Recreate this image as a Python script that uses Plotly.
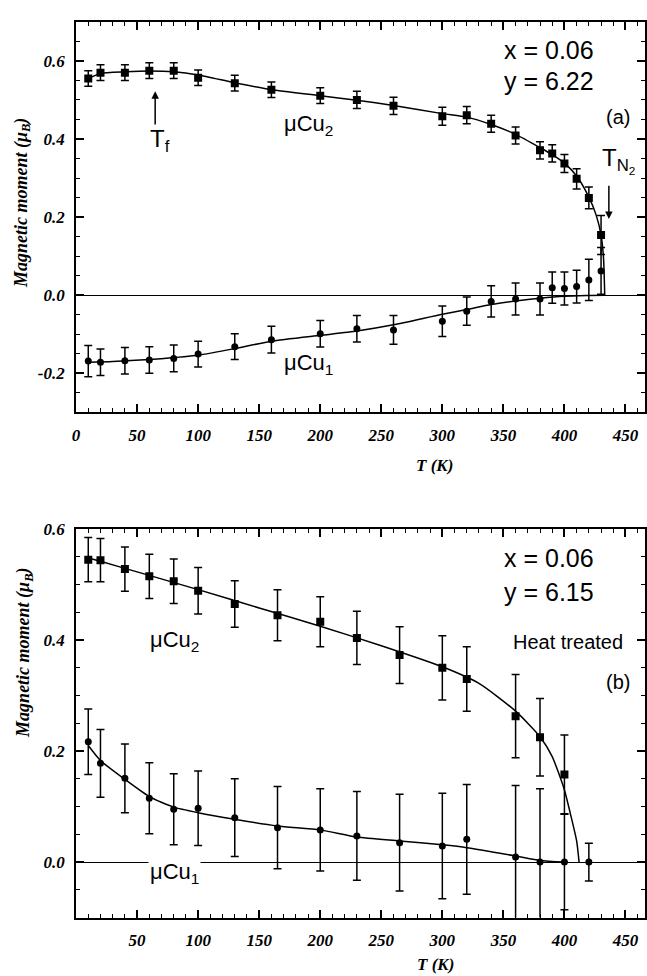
import plotly.graph_objects as go

# ---------------- data: panel (a) x=0.06, y=6.22 ----------------
T_a = [10, 20, 40, 60, 80, 100, 130, 160, 200, 230, 260, 300, 320, 340, 360, 380, 390, 400, 410, 420, 430]
cu2_a = [0.555, 0.570, 0.570, 0.575, 0.575, 0.557, 0.543, 0.526, 0.511, 0.500, 0.485, 0.458, 0.461, 0.439,
         0.409, 0.371, 0.363, 0.337, 0.298, 0.249, 0.154]
cu2_a_err = [0.02, 0.02, 0.02, 0.02, 0.02, 0.02, 0.02, 0.02, 0.02, 0.022, 0.022, 0.023, 0.022, 0.022,
             0.022, 0.022, 0.022, 0.023, 0.026, 0.028, 0.05]
cu1_a = [-0.169, -0.172, -0.168, -0.166, -0.162, -0.151, -0.132, -0.114, -0.099, -0.086, -0.089, -0.067,
         -0.041, -0.016, -0.010, -0.010, 0.019, 0.017, 0.022, 0.039, 0.062]
cu1_a_err = [0.04, 0.034, 0.034, 0.034, 0.034, 0.033, 0.033, 0.034, 0.034, 0.034, 0.037, 0.039,
             0.036, 0.04, 0.041, 0.041, 0.04, 0.042, 0.042, 0.053, 0.06]
fitT_cu2_a = [10, 20, 40, 60, 80, 100, 130, 160, 200, 230, 260, 300, 320, 340, 360, 380, 390, 400, 410, 420, 426, 430, 432, 433]
fit_cu2_a = [0.555, 0.568, 0.572, 0.574, 0.572, 0.564, 0.544, 0.526, 0.511, 0.499, 0.486, 0.465, 0.456, 0.437,
             0.412, 0.378, 0.360, 0.338, 0.305, 0.251, 0.205, 0.154, 0.096, 0.0]
fitT_cu1_a = [10, 30, 60, 80, 100, 130, 160, 200, 230, 260, 300, 320, 340, 360, 380, 400, 420, 433]
fit_cu1_a = [-0.172, -0.170, -0.165, -0.160, -0.154, -0.137, -0.118, -0.103, -0.092, -0.076, -0.049, -0.037,
             -0.024, -0.015, -0.008, -0.003, -0.001, 0.0]

# ---------------- data: panel (b) x=0.06, y=6.15, heat treated ----------------
T_b2 = [10, 20, 40, 60, 80, 100, 130, 165, 200, 230, 265, 300, 320, 360, 380, 400]
cu2_b = [0.545, 0.544, 0.528, 0.515, 0.506, 0.489, 0.465, 0.445, 0.433, 0.404, 0.373, 0.350, 0.330,
         0.263, 0.225, 0.158]
cu2_b_err = [0.04, 0.039, 0.04, 0.04, 0.04, 0.042, 0.042, 0.046, 0.045, 0.048, 0.051, 0.058, 0.058,
             0.075, 0.07, 0.071]
T_b1 = [10, 20, 40, 60, 80, 100, 130, 165, 200, 230, 265, 300, 320, 360, 380, 400, 420]
cu1_b = [0.217, 0.178, 0.151, 0.115, 0.095, 0.097, 0.080, 0.062, 0.058, 0.047, 0.035, 0.029, 0.041,
         0.009, 0.0, 0.0, 0.0]
cu1_b_err = [0.059, 0.061, 0.062, 0.064, 0.064, 0.067, 0.07, 0.074, 0.074, 0.08, 0.087, 0.095, 0.099,
             0.129, 0.132, 0.086, 0.034]
fitT_cu2_b = [10, 20, 50, 100, 150, 200, 250, 300, 330, 360, 380, 390, 400, 405, 410, 412]
fit_cu2_b = [0.548, 0.542, 0.523, 0.491, 0.458, 0.425, 0.390, 0.352, 0.322, 0.272, 0.226, 0.190, 0.130,
             0.086, 0.038, 0.0]
fitT_cu1_b = [10, 20, 40, 60, 80, 100, 130, 165, 200, 230, 265, 300, 320, 360, 380, 400]
fit_cu1_b = [0.210, 0.183, 0.149, 0.118, 0.099, 0.089, 0.077, 0.065, 0.058, 0.045, 0.038, 0.031, 0.026,
             0.011, 0.003, 0.0]

# tick labels
xticks_a = [0, 50, 100, 150, 200, 250, 300, 350, 400, 450]
xticks_b = [50, 100, 150, 200, 250, 300, 350, 400, 450]
yticks_a = [-0.2, 0.0, 0.2, 0.4, 0.6]
yticks_a_text = ["-0.2", "0.0", "0.2", "0.4", "0.6"]
yticks_b = [0.0, 0.2, 0.4, 0.6]
yticks_b_text = ["0.0", "0.2", "0.4", "0.6"]

W, H = 647, 976
fig = go.Figure()

def add_panel(xa, ya, T2, y2, e2, T1, y1, e1, fT2, f2, fT1, f1):
    fig.add_trace(go.Scatter(x=fT2, y=f2, mode="lines", line=dict(color="black", width=1.5, shape="spline", smoothing=0.6),
                             xaxis=xa, yaxis=ya, hoverinfo="skip"))
    fig.add_trace(go.Scatter(x=fT1, y=f1, mode="lines", line=dict(color="black", width=1.5, shape="spline", smoothing=0.6),
                             xaxis=xa, yaxis=ya, hoverinfo="skip"))
    fig.add_trace(go.Scatter(x=T2, y=y2, mode="markers", marker=dict(symbol="square", size=8, color="black"),
                             error_y=dict(type="data", array=e2, color="black", thickness=1.5, width=4),
                             xaxis=xa, yaxis=ya))
    fig.add_trace(go.Scatter(x=T1, y=y1, mode="markers", marker=dict(symbol="circle", size=7, color="black"),
                             error_y=dict(type="data", array=e1, color="black", thickness=1.5, width=4),
                             xaxis=xa, yaxis=ya))

add_panel("x", "y", T_a, cu2_a, cu2_a_err, T_a, cu1_a, cu1_a_err, fitT_cu2_a, fit_cu2_a, fitT_cu1_a, fit_cu1_a)
add_panel("x2", "y2", T_b2, cu2_b, cu2_b_err, T_b1, cu1_b, cu1_b_err, fitT_cu2_b, fit_cu2_b, fitT_cu1_b, fit_cu1_b)

tickfont = dict(family="Liberation Serif", size=17, color="black", style="italic", weight="bold")
xdom = [72.5 / W, 645 / W]
common_x = dict(range=[0, 466], domain=xdom, showline=True, linewidth=2, linecolor="black", mirror="allticks",
                ticks="inside", ticklen=8, tickwidth=1.5, tickcolor="black", showgrid=False, zeroline=False,
                tickfont=tickfont, ticklabelstandoff=6,
                minor=dict(dtick=10, ticks="inside", ticklen=4, tickwidth=1, tickcolor="black"))
common_y = dict(showline=True, linewidth=2, linecolor="black", mirror="allticks", ticks="inside", ticklen=8,
                tickwidth=1.5, tickcolor="black", showgrid=False, zeroline=True, zerolinecolor="black",
                zerolinewidth=1, tickfont=tickfont, ticklabelstandoff=6,
                minor=dict(dtick=0.05, tick0=0, ticks="inside", ticklen=4, tickwidth=1, tickcolor="black"))

fig.update_layout(
    width=W, height=H, margin=dict(l=0, r=0, t=0, b=0), showlegend=False,
    paper_bgcolor="white", plot_bgcolor="white",
    xaxis=dict(common_x, anchor="y", tickmode="array", tickvals=xticks_a, ticktext=[str(v) for v in xticks_a]),
    yaxis=dict(common_y, anchor="x", domain=[1 - 407 / H, 1 - 13 / H], range=[-0.3, 0.7],
               tickmode="array", tickvals=yticks_a, ticktext=yticks_a_text),
    xaxis2=dict(common_x, anchor="y2", tickmode="array", tickvals=xticks_b, ticktext=[str(v) for v in xticks_b]),
    yaxis2=dict(common_y, anchor="x2", domain=[1 - 917 / H, 1 - 525 / H], range=[-0.1, 0.6],
                tickmode="array", tickvals=yticks_b, ticktext=yticks_b_text),
)

sans = "Liberation Sans"
serif_bi = dict(family="Liberation Serif", size=17, color="black", style="italic", weight="bold")
ann = []
def A(text, x, y, xr, yr, size, **kw):
    d = dict(text=text, x=x, y=y, xref=xr, yref=yr, showarrow=False, xanchor="center", yanchor="middle",
             font=dict(family=sans, size=size, color="black"))
    d.update(kw)
    ann.append(d)

# axis titles
A("<i><b>T (K)</b></i>", 433 / W, 1 - 461 / H, "paper", "paper", 17, font=serif_bi)
A("<i><b>T (K)</b></i>", 434 / W, 0, "paper", "paper", 17, font=serif_bi, yanchor="bottom")
A("<i><b>Magnetic moment (μ<sub>B</sub>)</b></i>", 18 / W, 1 - 196 / H, "paper", "paper", 18,
  font=dict(serif_bi, size=18), textangle=-90)
A("<i><b>Magnetic moment (μ<sub>B</sub>)</b></i>", 20 / W, 1 - 650 / H, "paper", "paper", 18,
  font=dict(serif_bi, size=18), textangle=-90)

# panel (a)
A("x = 0.06", 387.5, 0.629, "x", "y", 25)
A("y = 6.22", 387.5, 0.548, "x", "y", 25)
A("(a)", 443.7, 0.456, "x", "y", 20)
A("T<sub>N<sub>2</sub></sub>", 444, 0.345, "x", "y", 24)
A("T<sub>f</sub>", 69, 0.395, "x", "y", 24)
A("μCu<sub>2</sub>", 190, 0.436, "x", "y", 22)
A("μCu<sub>1</sub>", 190, -0.176, "x", "y", 22)
ann.append(dict(x=436.4, y=0.195, ax=436.4, ay=0.284, xref="x", yref="y", axref="x", ayref="y", text="",
                showarrow=True, arrowhead=2, arrowsize=1, arrowwidth=1.5, arrowcolor="black"))
ann.append(dict(x=64.8, y=0.522, ax=64.8, ay=0.433, xref="x", yref="y", axref="x", ayref="y", text="",
                showarrow=True, arrowhead=2, arrowsize=1, arrowwidth=1.5, arrowcolor="black"))

# panel (b)
A("x = 0.06", 387.5, 0.548, "x2", "y2", 25)
A("y = 6.15", 387.5, 0.486, "x2", "y2", 25)
A("Heat treated", 403, 0.396, "x2", "y2", 20)
A("(b)", 443.7, 0.325, "x2", "y2", 20)
A("μCu<sub>2</sub>", 81, 0.398, "x2", "y2", 22)
A("μCu<sub>1</sub>", 81, -0.02, "x2", "y2", 22, bgcolor="white")

fig.update_layout(annotations=ann)
fig.write_html("out.html")
